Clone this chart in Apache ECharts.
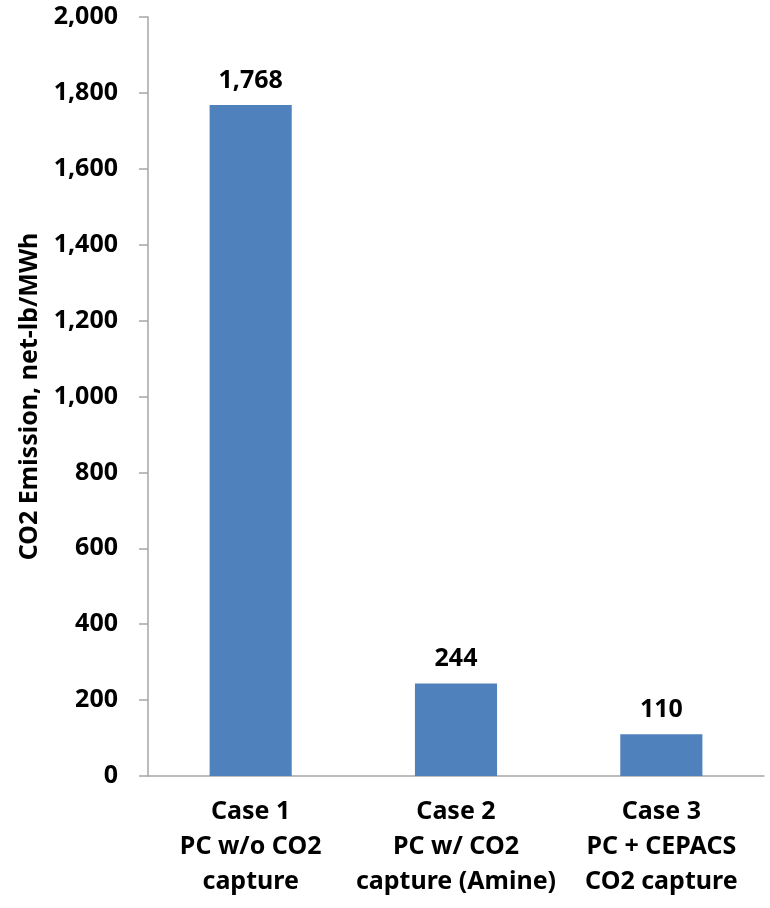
<!DOCTYPE html>
<html>
<head>
<meta charset="utf-8">
<script src="https://cdn.jsdelivr.net/npm/echarts@6/dist/echarts.min.js"></script>
<style>
  html, body { margin: 0; padding: 0; background: #fff; }
  #chart { width: 770px; height: 908px; }
</style>
</head>
<body>
<div id="chart"></div>
<script>
// 数据
const categories = [
    'Case 1\nPC w/o CO2\ncapture',
    'Case 2\nPC w/ CO2\ncapture (Amine)',
    'Case 3\nPC + CEPACS\nCO2 capture'
];
const emissions = [1768, 244, 110];

const chart = echarts.init(document.getElementById('chart'));
const font = '"Noto Sans", sans-serif';
const axisGray = '#a6a6a6';

const option = {
    animation: false,
    textStyle: { fontFamily: font },
    grid: { left: 148, right: 6, top: 17, bottom: 132 },
    xAxis: {
        type: 'category',
        data: categories,
        axisLine: { lineStyle: { color: axisGray, width: 1.5 } },
        axisTick: { show: false },
        axisLabel: {
            interval: 0,
            color: '#000', fontWeight: 'bold', fontSize: 25,
            lineHeight: 35, margin: 18, fontFamily: font
        }
    },
    yAxis: {
        type: 'value',
        min: 0, max: 2000, interval: 200,
        name: 'CO2 Emission, net-lb/MWh',
        nameLocation: 'middle',
        nameGap: 106,
        nameTextStyle: { color: '#000', fontWeight: 'bold', fontSize: 25, fontFamily: font },
        splitLine: { show: false },
        axisLine: { show: true, lineStyle: { color: axisGray, width: 1.5 } },
        axisTick: { show: true, length: 9, lineStyle: { color: axisGray, width: 1.5 } },
        axisLabel: {
            color: '#000', fontWeight: 'bold', fontSize: 25, margin: 30, fontFamily: font,
            formatter: v => v.toLocaleString('en-US')
        }
    },
    series: [{
        type: 'bar',
        data: emissions,
        barWidth: '40%',
        itemStyle: { color: '#4f81bd' },
        label: {
            show: true, position: 'top', distance: 12,
            color: '#000', fontWeight: 'bold', fontSize: 25, fontFamily: font,
            formatter: p => p.value.toLocaleString('en-US')
        }
    }]
};
chart.setOption(option);
</script>
</body>
</html>
